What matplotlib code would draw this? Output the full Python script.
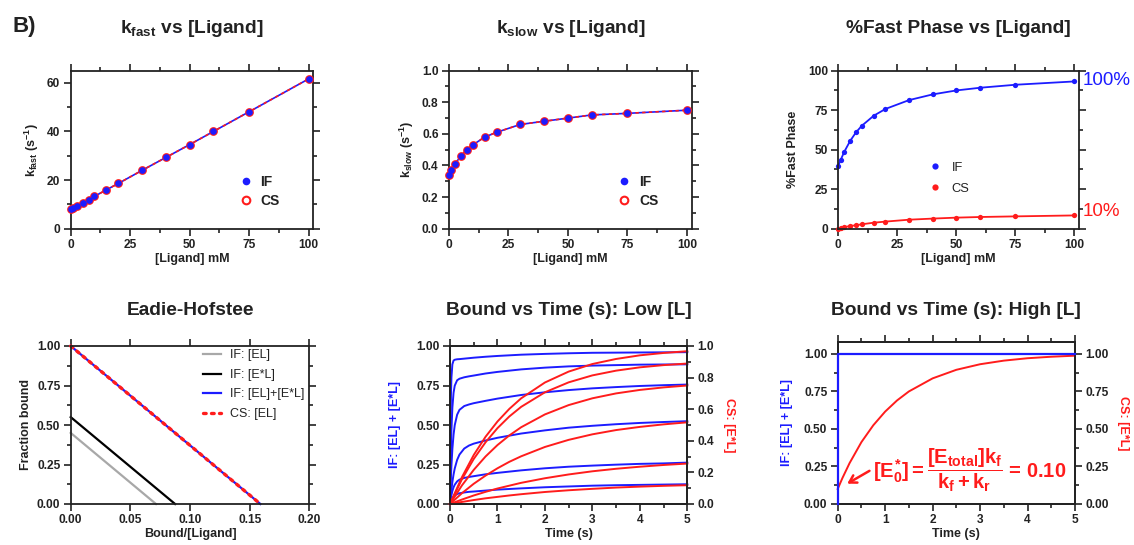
import matplotlib
matplotlib.use('Agg')
import matplotlib.pyplot as plt
import matplotlib.transforms as mtransforms
from matplotlib.lines import Line2D
from matplotlib.ticker import MultipleLocator, FormatStrFormatter

plt.rcParams['font.family'] = ['Liberation Sans', 'DejaVu Sans']
plt.rcParams['font.weight'] = 'bold'
plt.rcParams['axes.labelweight'] = 'bold'
plt.rcParams['mathtext.fontset'] = 'custom'
plt.rcParams['mathtext.rm'] = 'Liberation Sans:bold'
plt.rcParams['mathtext.it'] = 'Liberation Sans:bold'
plt.rcParams['mathtext.bf'] = 'Liberation Sans:bold'
plt.rcParams['axes.linewidth'] = 1.3
plt.rcParams['axes.edgecolor'] = '#222222'
plt.rcParams['xtick.color'] = '#222222'
plt.rcParams['ytick.color'] = '#222222'
plt.rcParams['text.color'] = '#222222'
plt.rcParams['axes.labelcolor'] = '#222222'

BLUE = '#1c1cff'
RED = '#ff1c1c'
GRAY = '#a8a8a8'

# ---- data ----
ligand = [0, 1, 2.5, 5, 7.5, 10, 15, 20, 30, 40, 50, 60, 75, 100]
kfast_if = [8.0, 8.5, 9.3, 10.7, 12.0, 13.3, 16.0, 18.6, 24.0, 29.3, 34.6, 40.0, 48.1, 61.6]
kfast_cs = [8.0, 8.5, 9.3, 10.7, 12.0, 13.3, 16.0, 18.6, 24.0, 29.3, 34.6, 40.0, 48.1, 61.6]
kslow_if = [0.34, 0.37, 0.41, 0.46, 0.50, 0.53, 0.58, 0.61, 0.66, 0.68, 0.70, 0.72, 0.73, 0.75]
kslow_cs = [0.34, 0.37, 0.41, 0.46, 0.50, 0.53, 0.58, 0.61, 0.66, 0.68, 0.70, 0.72, 0.73, 0.75]
pct_fast_if = [40.0, 43.5, 48.6, 55.5, 61.0, 65.2, 71.5, 75.8, 81.4, 85.0, 87.5, 89.2, 91.1, 93.2]
pct_fast_cs = [0.0, 0.5, 1.0, 1.7, 2.2, 2.8, 3.8, 4.5, 5.7, 6.4, 7.0, 7.4, 7.8, 8.4]

# Eadie-Hofstee lines (bound/[L], fraction bound)
eh_if_el_x = [0.0, 0.0715]
eh_if_el_y = [0.45, 0.0]
eh_if_estar_x = [0.0, 0.0875]
eh_if_estar_y = [0.55, 0.0]
eh_if_total_x = [0.0, 0.159]
eh_if_total_y = [1.0, 0.0]
eh_cs_el_x = [0.0, 0.159]
eh_cs_el_y = [1.0, 0.0]

# bound vs time, low [L]
t_low_if = [0, 0.01, 0.02, 0.03, 0.05, 0.075, 0.1, 0.15, 0.2, 0.3, 0.4, 0.5,
            0.75, 1, 1.5, 2, 2.5, 3, 3.5, 4, 4.5, 5]
if_low = [
    [0, 0.458, 0.686, 0.800, 0.884, 0.908, 0.913, 0.916, 0.917, 0.920, 0.923,
     0.926, 0.932, 0.937, 0.945, 0.950, 0.954, 0.957, 0.958, 0.959, 0.960, 0.961],
    [0, 0.203, 0.354, 0.465, 0.610, 0.704, 0.749, 0.783, 0.793, 0.802, 0.808,
     0.813, 0.826, 0.836, 0.852, 0.863, 0.871, 0.876, 0.879, 0.882, 0.883, 0.884],
    [0, 0.095, 0.175, 0.242, 0.348, 0.439, 0.499, 0.565, 0.596, 0.620, 0.630,
     0.638, 0.653, 0.667, 0.690, 0.707, 0.721, 0.732, 0.740, 0.747, 0.752, 0.756],
    [0, 0.033, 0.064, 0.091, 0.139, 0.187, 0.225, 0.279, 0.313, 0.351, 0.370,
     0.382, 0.402, 0.419, 0.446, 0.466, 0.483, 0.495, 0.505, 0.513, 0.519, 0.524],
    [0, 0.022, 0.040, 0.056, 0.082, 0.106, 0.122, 0.143, 0.154, 0.165, 0.171,
     0.176, 0.188, 0.197, 0.213, 0.226, 0.236, 0.243, 0.249, 0.254, 0.257, 0.262],
    [0, 0.009, 0.017, 0.025, 0.036, 0.046, 0.054, 0.063, 0.068, 0.073, 0.077,
     0.079, 0.085, 0.091, 0.099, 0.106, 0.111, 0.116, 0.119, 0.121, 0.123, 0.125],
]
t_low_cs = [0, 0.25, 0.5, 0.75, 1, 1.25, 1.5, 2, 2.5, 3, 3.5, 4, 4.5, 5]
cs_low = [
    [0, 0.169, 0.310, 0.426, 0.522, 0.602, 0.669, 0.769, 0.838, 0.886, 0.918, 0.941, 0.956, 0.967],
    [0, 0.156, 0.285, 0.391, 0.480, 0.554, 0.615, 0.707, 0.770, 0.814, 0.844, 0.865, 0.879, 0.889],
    [0, 0.117, 0.216, 0.301, 0.373, 0.434, 0.486, 0.567, 0.626, 0.669, 0.700, 0.722, 0.738, 0.750],
    [0, 0.068, 0.128, 0.180, 0.226, 0.267, 0.302, 0.361, 0.406, 0.441, 0.468, 0.488, 0.504, 0.517],
    [0, 0.028, 0.054, 0.077, 0.098, 0.116, 0.134, 0.163, 0.187, 0.207, 0.223, 0.236, 0.247, 0.256],
    [0, 0.013, 0.025, 0.036, 0.045, 0.054, 0.062, 0.076, 0.087, 0.096, 0.104, 0.110, 0.115, 0.119],
]

# bound vs time, high [L]
t_high_if = [0, 0, 5]
if_high = [0, 1.0, 1.0]
t_high_cs = [0, 0.1, 0.25, 0.5, 0.75, 1, 1.25, 1.5, 2, 2.5, 3, 3.5, 4, 4.5, 5]
cs_high = [0.100, 0.173, 0.272, 0.412, 0.524, 0.615, 0.689, 0.749, 0.836,
           0.893, 0.930, 0.954, 0.970, 0.980, 0.987]

W, H = 1134, 545


def box(l, r, t, b):
    return [l / W, 1 - b / H, (r - l) / W, (b - t) / H]


def style(ax, xmaj, xmin, ymaj, ymin, xfmt=None, yfmt=None, top=True, right=True):
    ax.xaxis.set_major_locator(MultipleLocator(xmaj))
    ax.xaxis.set_minor_locator(MultipleLocator(xmin))
    ax.yaxis.set_major_locator(MultipleLocator(ymaj))
    ax.yaxis.set_minor_locator(MultipleLocator(ymin))
    if xfmt:
        ax.xaxis.set_major_formatter(FormatStrFormatter(xfmt))
    if yfmt:
        ax.yaxis.set_major_formatter(FormatStrFormatter(yfmt))
    ax.tick_params(which='both', direction='out', top=top, right=right,
                   width=1.2, labelsize=8.6, pad=2.5)
    ax.tick_params(which='major', length=5)
    ax.tick_params(which='minor', length=3)


def style_right(ax, ymaj, ymin, yfmt):
    ax.yaxis.set_major_locator(MultipleLocator(ymaj))
    ax.yaxis.set_minor_locator(MultipleLocator(ymin))
    ax.yaxis.set_major_formatter(FormatStrFormatter(yfmt))
    ax.tick_params(which='both', direction='out', width=1.2, labelsize=8.6, pad=2.5)
    ax.tick_params(which='major', length=5)
    ax.tick_params(which='minor', length=3)


fig = plt.figure(figsize=(11.34, 5.45), dpi=100)

ax1 = fig.add_axes(box(70.7, 313.3, 70.7, 228.7))
ax2 = fig.add_axes(box(449, 691.7, 70.7, 228.7))
ax3 = fig.add_axes(box(838.3, 1079, 70.7, 228.7))
ax4 = fig.add_axes(box(70.7, 309.3, 346, 504))
ax5 = fig.add_axes(box(450, 687.3, 346, 504))
ax6 = fig.add_axes(box(837.7, 1075, 341.7, 504))

fig.text(12 / W, 1 - 32 / H, 'B)', fontsize=16, fontweight='bold', ha='left', va='baseline')

top_titles = [r'k$_\mathregular{fast}$ vs [Ligand]', r'k$_\mathregular{slow}$ vs [Ligand]',
              '%Fast Phase vs [Ligand]']
bot_titles = ['Eadie-Hofstee', 'Bound vs Time (s): Low [L]', 'Bound vs Time (s): High [L]']
for ax, s in zip([ax1, ax2, ax3], top_titles):
    p = ax.get_position()
    fig.text(p.x0 + p.width / 2, 1 - 33 / H, s, fontsize=13.8, ha='center', va='baseline')
for ax, s in zip([ax4, ax5, ax6], bot_titles):
    p = ax.get_position()
    fig.text(p.x0 + p.width / 2, 1 - 315 / H, s, fontsize=13.8, ha='center', va='baseline')

# ---- k fast ----
ax1.plot(ligand, kfast_if, color=BLUE, lw=1.2, zorder=2)
ax1.plot(ligand, kfast_cs, color=RED, lw=1.2, ls=(0, (2, 2)), zorder=2)
ax1.plot(ligand, kfast_cs, 'o', ms=5.0, mfc='none', mec=RED, mew=1.3, zorder=3, clip_on=False)
ax1.plot(ligand, kfast_if, 'o', ms=4.8, color=BLUE, mew=0, zorder=4, clip_on=False)
ax1.set_xlim(0, 102)
ax1.set_ylim(0, 65)
style(ax1, 25, 12.5, 20, 10)
ax1.set_xlabel('[Ligand] mM', fontsize=9, labelpad=1.5)
ax1.set_ylabel(r'k$_\mathregular{fast}$ (s$^\mathregular{-1}$)', fontsize=9, labelpad=4)

h_if = Line2D([], [], marker='o', ls='none', color=BLUE, ms=5.5, mew=0)
h_cs = Line2D([], [], marker='o', ls='none', mfc='none', mec=RED, ms=5.5, mew=1.5)
for ax in (ax1, ax2):
    ax.legend([h_if, h_cs], ['IF', 'CS'], loc='upper left', bbox_to_anchor=(0.694, 0.34),
              frameon=False, fontsize=10, handlelength=1.0, handletextpad=0.55,
              labelspacing=0.36, borderpad=0, borderaxespad=0)

# ---- k slow ----
ax2.plot(ligand, kslow_if, color=BLUE, lw=1.2, zorder=2)
ax2.plot(ligand, kslow_cs, color=RED, lw=1.2, ls=(0, (2, 2)), zorder=2)
ax2.plot(ligand, kslow_cs, 'o', ms=5.0, mfc='none', mec=RED, mew=1.3, zorder=3, clip_on=False)
ax2.plot(ligand, kslow_if, 'o', ms=4.8, color=BLUE, mew=0, zorder=4, clip_on=False)
ax2.set_xlim(0, 102)
ax2.set_ylim(0, 1.0)
style(ax2, 25, 12.5, 0.2, 0.1, yfmt='%.1f')
ax2.set_xlabel('[Ligand] mM', fontsize=9, labelpad=1.5)
ax2.set_ylabel(r'k$_\mathregular{slow}$ (s$^\mathregular{-1}$)', fontsize=9, labelpad=4)

# ---- % fast phase ----
ax3.plot(ligand, pct_fast_if, '-o', color=BLUE, lw=1.3, ms=3.8, mew=0, clip_on=False)
ax3.plot(ligand, pct_fast_cs, '-o', color=RED, lw=1.3, ms=3.8, mew=0, clip_on=False)
ax3.set_xlim(0, 102)
ax3.set_ylim(0, 100)
style(ax3, 25, 12.5, 25, 12.5)
ax3.set_xlabel('[Ligand] mM', fontsize=9, labelpad=1.5)
ax3.set_ylabel('%Fast Phase', fontsize=9, labelpad=6.5)
h3_if = Line2D([], [], marker='o', ls='none', color=BLUE, ms=4.5, mew=0)
h3_cs = Line2D([], [], marker='o', ls='none', color=RED, ms=4.5, mew=0)
ax3.legend([h3_if, h3_cs], ['IF', 'CS'], loc='upper left', bbox_to_anchor=(0.375, 0.423),
           frameon=False, prop={'size': 9.3, 'weight': 'normal'}, handlelength=1.0,
           handletextpad=0.8, labelspacing=0.68, borderpad=0, borderaxespad=0)
tr3 = mtransforms.blended_transform_factory(ax3.transAxes, ax3.transData)
ax3.text(1.015, 94, '100%', transform=tr3, color=BLUE, fontsize=13.5, fontweight='normal',
         ha='left', va='center')
ax3.text(1.015, 11, '10%', transform=tr3, color=RED, fontsize=13.5, fontweight='normal',
         ha='left', va='center')

# ---- Eadie-Hofstee ----
ax4.plot(eh_if_el_x, eh_if_el_y, color=GRAY, lw=1.6, clip_on=False, label='IF: [EL]')
ax4.plot(eh_if_estar_x, eh_if_estar_y, color='black', lw=1.6, clip_on=False, label='IF: [E*L]')
ax4.plot(eh_if_total_x, eh_if_total_y, color=BLUE, lw=1.6, clip_on=False, label='IF: [EL]+[E*L]')
ax4.plot(eh_cs_el_x, eh_cs_el_y, color=RED, lw=2.4, ls=(0, (0.8, 1.6)), dash_capstyle='round',
         clip_on=False, label='CS: [EL]')
ax4.set_xlim(0, 0.2)
ax4.set_ylim(0, 1.0)
style(ax4, 0.05, 0.05, 0.25, 0.125, xfmt='%.2f', yfmt='%.2f')
ax4.set_xlabel('Bound/[Ligand]', fontsize=9, labelpad=1.5)
ax4.set_ylabel('Fraction bound', fontsize=9, labelpad=3.5)
ax4.legend(loc='upper left', bbox_to_anchor=(0.553, 0.978), frameon=False,
           prop={'size': 9, 'weight': 'normal'}, handlelength=1.45, handletextpad=0.7,
           labelspacing=0.6, borderpad=0, borderaxespad=0)

# ---- bound vs time, low [L] ----
for y in if_low:
    ax5.plot(t_low_if, y, color=BLUE, lw=1.4, clip_on=False)
ax5.set_xlim(0, 5)
ax5.set_ylim(0, 1.0)
style(ax5, 1, 0.5, 0.25, 0.125, yfmt='%.2f', right=False)
ax5.set_xlabel('Time (s)', fontsize=9, labelpad=1.5)
ax5.set_ylabel('IF: [EL] + [E*L]', fontsize=9, color=BLUE, labelpad=11)
ax5r = ax5.twinx()
for y in cs_low:
    ax5r.plot(t_low_cs, y, color=RED, lw=1.4, clip_on=False)
ax5r.set_ylim(0, 1.0)
style_right(ax5r, 0.2, 0.1, '%.1f')
ax5r.set_ylabel('CS: [E*L]', fontsize=9, color=RED, rotation=270, va='bottom', labelpad=6)

# ---- bound vs time, high [L] ----
ax6.set_xlim(0, 5)
ax6.set_ylim(0, 1.08)
style(ax6, 1, 0.5, 0.25, 0.125, yfmt='%.2f', right=False)
ax6.set_xlabel('Time (s)', fontsize=9, labelpad=1.5)
ax6.set_ylabel('IF: [EL] + [E*L]', fontsize=9, color=BLUE, labelpad=8)
ax6r = ax6.twinx()
ax6r.plot(t_high_cs, cs_high, color=RED, lw=1.4, clip_on=False)
ax6r.set_ylim(0, 1.08)
style_right(ax6r, 0.25, 0.125, '%.2f')
ax6r.set_ylabel('CS: [E*L]', fontsize=9, color=RED, rotation=270, va='bottom', labelpad=6)
# IF trace shares the same 0-1.08 scale; drawn on the twin so it sits above the spine
ax6r.plot(t_high_if, if_high, color=BLUE, lw=1.6, clip_on=False, zorder=6)
ax6r.annotate('', xy=(0.15, 0.126), xytext=(0.72, 0.23),
              arrowprops=dict(arrowstyle='->,head_length=0.5,head_width=0.3', color=RED, lw=1.8))
ax6r.text(0.74, 0.225,
          r'$[E^{*}_{0}] = \dfrac{[E_{total}]k_{f}}{k_{f} + k_{r}}$ = 0.10',
          color=RED, fontsize=14.5, ha='left', va='center')

fig.savefig('out.png', dpi=100)
